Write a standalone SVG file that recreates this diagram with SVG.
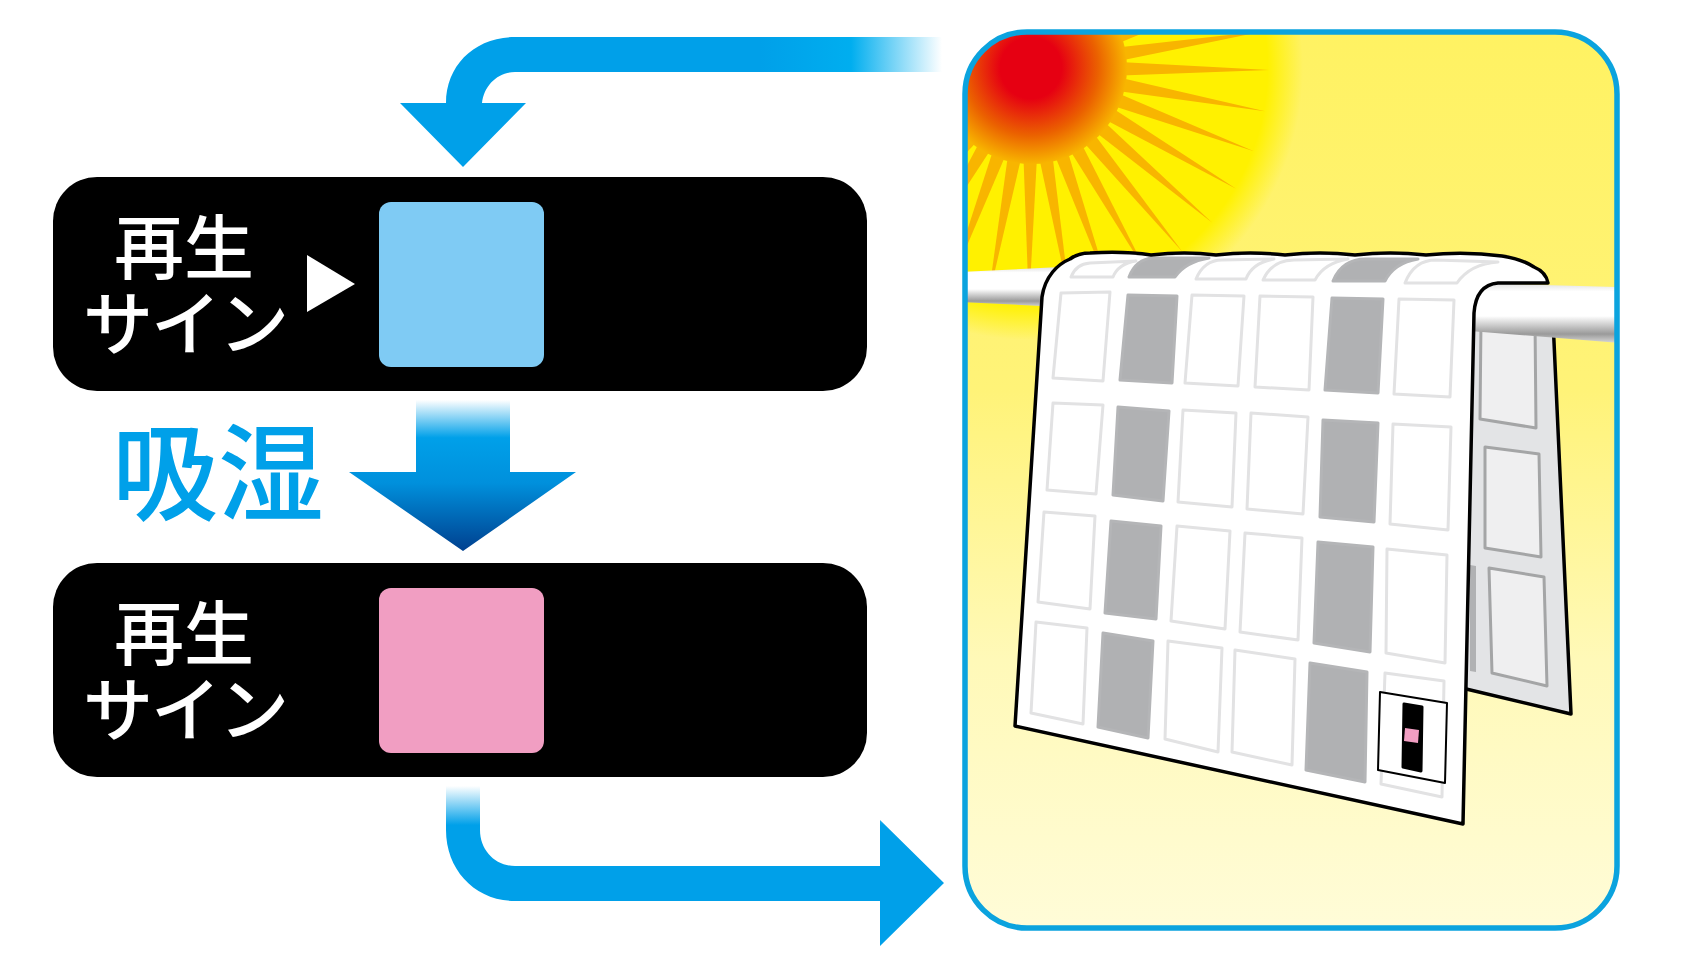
<svg xmlns="http://www.w3.org/2000/svg" xmlns:xlink="http://www.w3.org/1999/xlink" width="1692" height="953" viewBox="0 0 1692 953">
<style>
.label{font-family:"Noto Sans CJK JP","Liberation Sans",sans-serif;font-size:70px;font-weight:500;fill:#fff;text-anchor:middle}
.tight{letter-spacing:-2px}
.bar{fill:#000}
.cell{fill:#fff;stroke:#e2e2e3;stroke-width:3;stroke-linejoin:round}
.wet{fill:#b0b1b3;stroke:#b4b5b7;stroke-width:3;stroke-linejoin:round}
.back{fill:#efeff0;stroke:#a4a5a6;stroke-width:3;stroke-linejoin:round}
.edge{fill:none;stroke:#000;stroke-width:3.5;stroke-linejoin:round}
</style>
<defs>
<linearGradient id="fadeTop" gradientUnits="userSpaceOnUse" x1="942" y1="0" x2="760" y2="0"><stop offset="0" stop-color="#fff"/><stop offset=".5" stop-color="#00aeef"/><stop offset="1" stop-color="#00a0e9"/></linearGradient>
<linearGradient id="fadeBottom" gradientUnits="userSpaceOnUse" x1="0" y1="786" x2="0" y2="825"><stop offset="0" stop-color="#fff"/><stop offset="1" stop-color="#00a0e9"/></linearGradient>
<linearGradient id="fadeDown" gradientUnits="userSpaceOnUse" x1="0" y1="400" x2="0" y2="551"><stop offset="0" stop-color="#fff"/><stop offset=".25" stop-color="#00a0e9"/><stop offset=".55" stop-color="#0090dc"/><stop offset="1" stop-color="#00408f"/></linearGradient>
<linearGradient id="sky" gradientUnits="userSpaceOnUse" x1="0" y1="30" x2="0" y2="930"><stop offset="0" stop-color="#fff262"/><stop offset=".4" stop-color="#fff378"/><stop offset=".7" stop-color="#fff9b8"/><stop offset="1" stop-color="#fffcd8"/></linearGradient>
<radialGradient id="glow" gradientUnits="userSpaceOnUse" cx="1031" cy="68" r="272"><stop offset=".87" stop-color="#fff100"/><stop offset="1" stop-color="#fff100" stop-opacity="0"/></radialGradient>
<radialGradient id="sun" gradientUnits="userSpaceOnUse" cx="1031" cy="68" r="96"><stop offset=".32" stop-color="#e60012"/><stop offset=".7" stop-color="#eb6100"/><stop offset="1" stop-color="#f8b500"/></radialGradient>
<linearGradient id="railL" gradientUnits="objectBoundingBox" x1="0" y1="0" x2="0" y2="1"><stop offset="0" stop-color="#e0e0e0"/><stop offset=".14" stop-color="#fff"/><stop offset=".55" stop-color="#fff"/><stop offset=".85" stop-color="#9a9a9a"/><stop offset="1" stop-color="#d8d8d8"/></linearGradient>
<clipPath id="panelClip"><rect x="965" y="32" width="652" height="896" rx="62"/></clipPath>
<polygon id="ray" points="84,-7 238,0 84,7" fill="#f8b500"/>
</defs>

<!-- drying scene on the right -->
<g id="scene">
<g clip-path="url(#panelClip)">
<rect x="965" y="32" width="652" height="896" fill="url(#sky)"/>
<rect x="965" y="32" width="652" height="400" fill="url(#glow)"/>
<g id="rays">
<use xlink:href="#ray" href="#ray" transform="translate(1031 68) rotate(-20)"/>
<use xlink:href="#ray" href="#ray" transform="translate(1031 68) rotate(-9)"/>
<use xlink:href="#ray" href="#ray" transform="translate(1031 68) rotate(0.5)"/>
<use xlink:href="#ray" href="#ray" transform="translate(1031 68) rotate(10.5)"/>
<use xlink:href="#ray" href="#ray" transform="translate(1031 68) rotate(20.5)"/>
<use xlink:href="#ray" href="#ray" transform="translate(1031 68) rotate(30.5)"/>
<use xlink:href="#ray" href="#ray" transform="translate(1031 68) rotate(40.5)"/>
<use xlink:href="#ray" href="#ray" transform="translate(1031 68) rotate(50.5)"/>
<use xlink:href="#ray" href="#ray" transform="translate(1031 68) rotate(60.5)"/>
<use xlink:href="#ray" href="#ray" transform="translate(1031 68) rotate(70.5)"/>
<use xlink:href="#ray" href="#ray" transform="translate(1031 68) rotate(80.5)"/>
<use xlink:href="#ray" href="#ray" transform="translate(1031 68) rotate(90.5)"/>
<use xlink:href="#ray" href="#ray" transform="translate(1031 68) rotate(100.5)"/>
<use xlink:href="#ray" href="#ray" transform="translate(1031 68) rotate(110.5)"/>
<use xlink:href="#ray" href="#ray" transform="translate(1031 68) rotate(120.5)"/>
<use xlink:href="#ray" href="#ray" transform="translate(1031 68) rotate(130.5)"/>
</g>
<circle cx="1031" cy="68" r="96" fill="url(#sun)"/>

<!-- far side of the sheet -->
<polygon points="1462,300 1551,300 1571,714 1462,688" fill="#e3e4e6"/>
<polygon points="1470,565 1476,566 1476,672 1470,671" fill="#b0b1b3"/>
<polygon class="back" points="1481,320 1535,320 1536,428 1480,419"/>
<polygon class="back" points="1485,447 1539,454 1541,557 1485,548"/>
<polygon class="back" points="1489,568 1544,577 1547,686 1492,673"/>
<path class="edge" d="M1553 320 L1571 714 L1462 688"/>

<!-- rail -->
<polygon points="962,272 1060,267 1060,307 962,302" fill="url(#railL)"/>
<polygon points="1470,283 1620,287 1620,343 1470,331" fill="url(#railL)"/>

<!-- near side of the sheet -->
<path id="sheet" d="M1015 726 L1042 297 C1045 276 1058 264 1070 259 Q1078 253 1090 253 Q1125 251 1151 255 Q1185 251 1216 255 Q1250 251 1285 255 Q1320 251 1355 255 Q1390 251 1426 255 Q1465 251 1502 256 Q1522 259 1534 267 Q1546 272 1548 283 L1498 283 Q1476 285 1474 313 L1463 824 Z" fill="#fff"/>
<path d="M1071 277 Q1076 264 1090 263 L1136 261 Q1118 264 1113 277 Z" class="cell"/>
<path d="M1129 277 Q1136 259 1153 258 L1209 258 Q1185 262 1175 277 Z" class="wet"/>
<path d="M1196 279 Q1204 260 1222 260 L1274 259 Q1252 263 1246 279 Z" class="cell"/>
<path d="M1263 280 Q1272 260 1294 260 L1348 259 Q1324 263 1315 280 Z" class="cell"/>
<path d="M1333 281 Q1342 259 1366 259 L1418 259 Q1394 263 1385 281 Z" class="wet"/>
<path d="M1405 283 Q1414 260 1436 260 L1498 262 Q1470 264 1457 283 Z" class="cell"/>

<g id="cells">
<polygon class="cell" points="1061,293 1110,292 1103,381 1053,378"/>
<polygon class="wet" points="1128,295 1177,296 1172,383 1120,380"/>
<polygon class="cell" points="1192,295 1244,296 1238,386 1185,383"/>
<polygon class="cell" points="1260,296 1313,297 1309,390 1255,387"/>
<polygon class="wet" points="1332,298 1383,299 1378,393 1325,390"/>
<polygon class="cell" points="1399,299 1454,300 1450,397 1394,394"/>

<polygon class="cell" points="1053,403 1103,405 1096,494 1047,490"/>
<polygon class="wet" points="1118,407 1169,411 1163,501 1113,495"/>
<polygon class="cell" points="1183,410 1236,413 1232,507 1178,502"/>
<polygon class="cell" points="1251,413 1308,417 1303,514 1247,509"/>
<polygon class="wet" points="1323,420 1378,423 1374,522 1320,517"/>
<polygon class="cell" points="1393,424 1451,427 1448,530 1390,524"/>

<polygon class="cell" points="1044,512 1095,516 1090,609 1038,602"/>
<polygon class="wet" points="1111,521 1161,526 1156,619 1105,613"/>
<polygon class="cell" points="1177,526 1230,531 1225,629 1171,621"/>
<polygon class="cell" points="1245,533 1302,538 1298,640 1240,632"/>
<polygon class="wet" points="1318,542 1373,547 1370,652 1314,643"/>
<polygon class="cell" points="1387,549 1447,555 1445,663 1386,653"/>

<polygon class="cell" points="1036,622 1087,628 1083,724 1031,713"/>
<polygon class="wet" points="1103,633 1153,641 1148,738 1098,727"/>
<polygon class="cell" points="1168,641 1222,648 1218,752 1165,739"/>
<polygon class="cell" points="1235,650 1295,659 1292,765 1232,752"/>
<polygon class="wet" points="1310,663 1367,672 1365,782 1306,770"/>
<polygon class="cell" points="1385,673 1444,681 1442,797 1381,784"/>
</g>

<path class="edge" d="M1015 726 L1463 824 L1474 313 Q1476 285 1498 283 L1548 283 Q1546 272 1534 267 Q1522 259 1502 256 Q1465 251 1426 255 Q1390 251 1355 255 Q1320 251 1285 255 Q1250 251 1216 255 Q1185 251 1151 255 Q1125 251 1090 253 Q1078 253 1070 259 C1058 264 1045 276 1042 297 Z"/>

<!-- care tag -->
<g id="tag">
<polygon points="1380,692 1447,703 1445,783 1378,770" fill="#fff" stroke="#000" stroke-width="2" stroke-linejoin="round"/>
<polygon points="1404,704 1422,707 1421,771 1403,767" fill="#000" stroke="#000" stroke-width="3" stroke-linejoin="round"/>
<polygon points="1405,728 1419,730 1418,743 1404,741" fill="#f19ec2"/>
</g>
</g>
<rect x="965" y="32" width="652" height="896" rx="62" fill="none" stroke="#0ba3de" stroke-width="5.5"/>
</g>

<!-- status bars -->
<g id="dry">
<rect class="bar" x="53" y="177" width="814" height="214" rx="44"/>
<rect x="379" y="202" width="165" height="165" rx="12" fill="#7fcbf4"/>
<text class="label" x="184" y="274">再生</text>
<text class="label tight" x="185" y="350">サイン</text>
<polygon points="307,255 355,284 307,312" fill="#fff"/>
</g>
<g id="damp">
<rect class="bar" x="53" y="563" width="814" height="214" rx="44"/>
<rect x="379" y="588" width="165" height="165" rx="12" fill="#f19ec2"/>
<text class="label" x="184" y="660">再生</text>
<text class="label tight" x="185" y="736">サイン</text>
</g>
<g id="absorb">
<text x="218" y="512" font-family="'Noto Sans CJK JP','Liberation Sans',sans-serif" font-size="106" font-weight="500" fill="#00a0e9" text-anchor="middle">吸湿</text>
</g>

<!-- connectors -->
<g id="connectors">
<path d="M942 37 H515 C475 37 446 65 446 103 H400 L463 167 L526 103 H482 C484 85 498 72 515 72 H942 Z" fill="url(#fadeTop)"/>
<path d="M416 400 H510 V472 H576 L463 551 L349 472 H416 Z" fill="url(#fadeDown)"/>
<path d="M446 786 V830 C446 870 475 901 515 901 H880 V946 L944 883 L880 820 V866 H515 C495 866 480 850 480 830 V786 Z" fill="url(#fadeBottom)"/>
</g>
</svg>
